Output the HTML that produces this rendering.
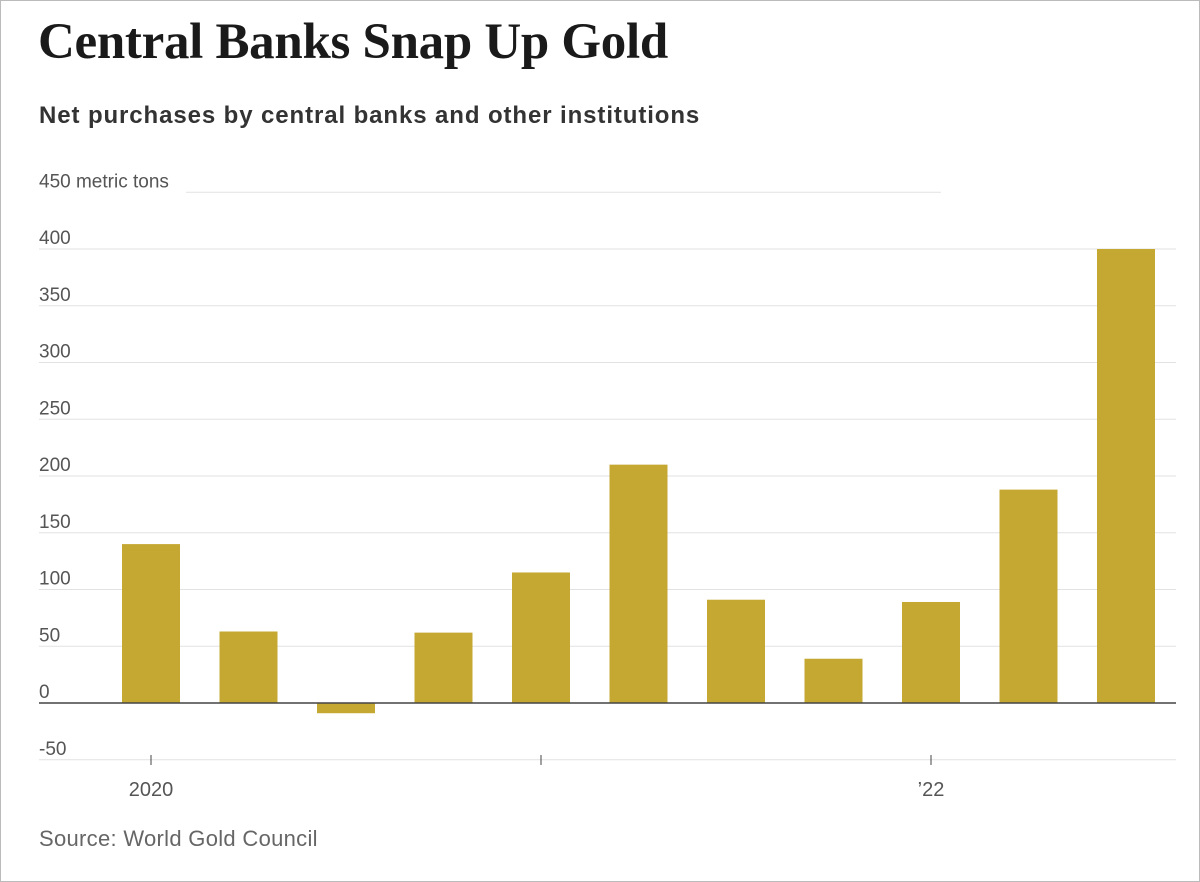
<!DOCTYPE html>
<html><head><meta charset="utf-8"><style>
body{margin:0;background:#fff;}
#wrap{position:relative;width:1198px;height:880px;border:1px solid #bbb;overflow:hidden;font-family:"Liberation Sans",sans-serif;}
#title{position:absolute;left:37px;top:12px;font-family:"Liberation Serif",serif;font-weight:bold;font-size:51px;color:#1a1a1a;letter-spacing:-0.3px;}
#sub{position:absolute;left:38px;top:101px;font-weight:bold;font-size:24px;color:#333;letter-spacing:0.9px;}
#src{position:absolute;left:38px;top:825px;font-size:22px;color:#666;letter-spacing:0.3px;}
svg{position:absolute;left:0;top:0;}
</style></head><body>
<div id="wrap">
<div id="title">Central Banks Snap Up Gold</div>
<div id="sub">Net purchases by central banks and other institutions</div>
<svg id="chart" width="1200" height="882"></svg>
<div id="src">Source: World Gold Council</div>
</div>
<script>
const categories=["Q1 2020","Q2 2020","Q3 2020","Q4 2020","Q1 2021","Q2 2021","Q3 2021","Q4 2021","Q1 2022","Q2 2022","Q3 2022"];
const values=[140,63,-9,62,115,210,91,39,89,188,400];
const yTicks=[-50,0,50,100,150,200,250,300,350,400,450];
const xLabels=["2020","","","","","","","","’22","",""];
const xTickIdx=[0,4,8];
const ns="http://www.w3.org/2000/svg";
const svg=document.getElementById('chart');
function y(v){return 702-v*(454/400);}
function xc(i){return 150+i*97.5;}
function mk(t,a){const e=document.createElementNS(ns,t);for(const k in a)e.setAttribute(k,a[k]);svg.appendChild(e);return e;}
yTicks.forEach(v=>{
  if(v!==0){
    const g=mk('line',{x1:v===450?185:38,x2:v===450?940:1175,y1:y(v),y2:y(v),stroke:'#e2e2e2','stroke-width':1});
    
    
  }
  const t=mk('text',{x:38,y:y(v)-5,'font-size':19,fill:'#555','font-family':'Liberation Sans, sans-serif'});
  t.textContent=v===450?'450 metric tons':String(v);
  
  
});
values.forEach((v,i)=>{
  const top=Math.min(y(v),y(0)),h=Math.abs(y(v)-y(0));
  const r=mk('rect',{x:xc(i)-29,y:top,width:58,height:h,fill:'#c4a832'});
  
  
});
const z=mk('line',{x1:38,x2:1175,y1:y(0),y2:y(0),stroke:'#444','stroke-width':1.5});


xTickIdx.forEach(i=>{
  const l=mk('line',{x1:xc(i),x2:xc(i),y1:754,y2:764,stroke:'#444','stroke-width':1});
  
  
});
xLabels.forEach((s,i)=>{
  if(!s)return;
  const t=mk('text',{x:xc(i),y:795,'font-size':20,fill:'#555','text-anchor':'middle','font-family':'Liberation Sans, sans-serif'});
  t.textContent=s;
  
  
});
</script>
</body></html>
